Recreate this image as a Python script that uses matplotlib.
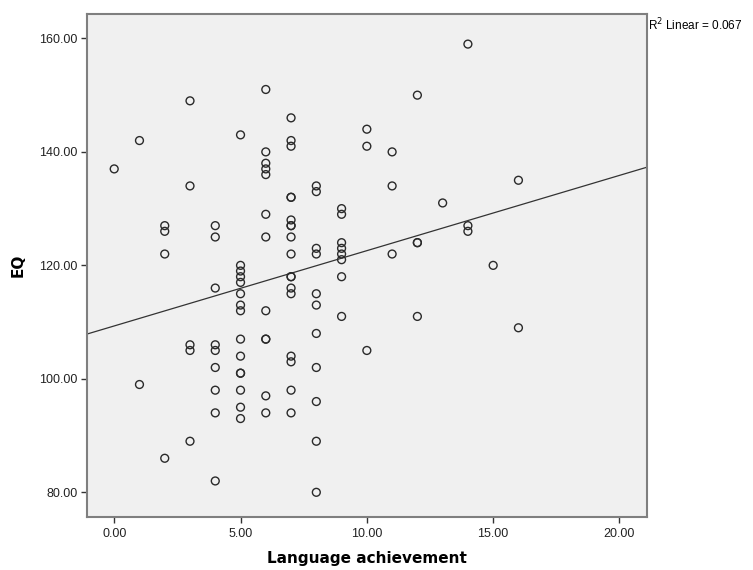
import numpy as np, matplotlib
matplotlib.use("Agg")
import matplotlib.pyplot as plt

plt.rcParams["font.family"] = ["Liberation Sans", "DejaVu Sans"]

# Language achievement (x) and EQ (y)
lang = ([0] + [1] * 2 + [2] * 4 + [3] * 5 + [4] * 9 + [5] * 15 + [6] * 12 + [7] * 18
        + [8] * 11 + [9] * 8 + [10] * 3 + [11] * 3 + [12] * 4 + [13] + [14] * 3 + [15] + [16] * 2)
eq = [137,
      142, 99,
      127, 126, 122, 86,
      149, 134, 106, 105, 89,
      127, 125, 116, 106, 105, 102, 98, 94, 82,
      143, 120, 119, 118, 117, 115, 113, 112, 107, 104, 101, 101, 98, 95, 93,
      151, 140, 138, 137, 136, 129, 125, 112, 107, 107, 97, 94,
      146, 142, 141, 132, 132, 128, 127, 127, 125, 122, 118, 118, 116, 115, 104, 103, 98, 94,
      134, 133, 123, 122, 115, 113, 108, 102, 96, 89, 80,
      130, 129, 124, 123, 122, 121, 118, 111,
      144, 141, 105,
      140, 134, 122,
      150, 124, 124, 111,
      131,
      159, 127, 126,
      120,
      135, 109]
r2_text = "R$^2$ Linear = 0.067"
x = np.array(lang, float); y = np.array(eq, float)

fig = plt.figure(figsize=(7.53, 5.70), dpi=100)
ax = fig.add_axes([0.1151, 0.0925, 0.7445, 0.8829])
ax.set_facecolor("#f0f0f0")
ax.set_xlim(-1.09, 21.1); ax.set_ylim(75.6, 164.3)

ax.scatter(x, y, s=32, facecolors="none", edgecolors="#2a2a2a", linewidths=1.0, zorder=3)

# linear fit line across full x range
b, a = np.polyfit(x, y, 1)
xl = np.array(ax.get_xlim())
ax.plot(xl, a + b * xl, color="#333333", lw=0.9, zorder=2)

for s in ax.spines.values():
    s.set_color("#7f7f7f"); s.set_linewidth(1.5)
ax.set_xticks([0, 5, 10, 15, 20]); ax.set_yticks([80, 100, 120, 140, 160])
ax.xaxis.set_major_formatter(lambda v, p: f"{v:.2f}")
ax.yaxis.set_major_formatter(lambda v, p: f"{v:.2f}")
ax.tick_params(direction="out", length=4.3, width=1, color="#333333", labelsize=9,
               labelcolor="#222222")
ax.tick_params(axis="x", pad=3.5)
ax.tick_params(axis="y", pad=2)
ax.set_xlabel("Language achievement", fontsize=11, fontweight="bold", labelpad=8,
              family="DejaVu Sans")
ax.set_ylabel("EQ", fontsize=11, fontweight="bold", labelpad=10, family="DejaVu Sans")
ax.text(1.002, 0.995, r2_text, transform=ax.transAxes, fontsize=8.5, va="top", ha="left")

fig.savefig("out.png", dpi=100)
print("fit", a, b)
